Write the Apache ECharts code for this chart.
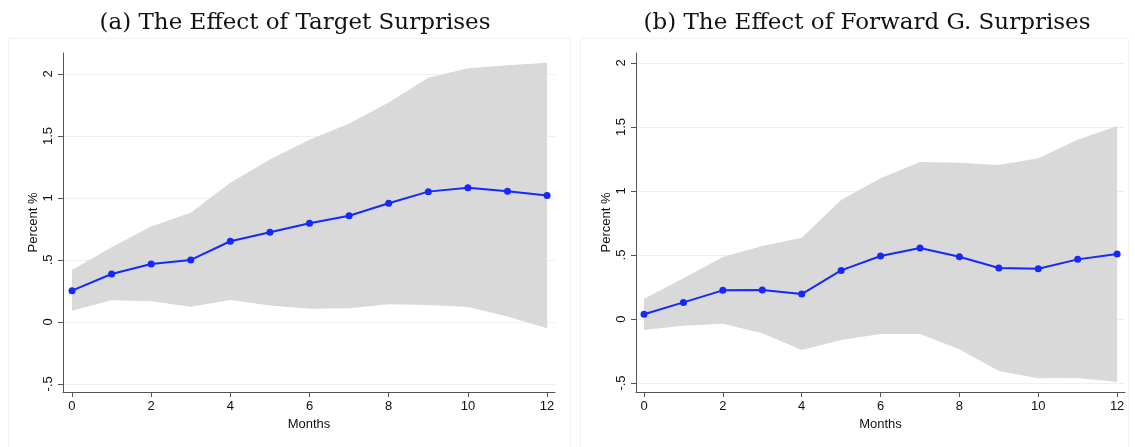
<!DOCTYPE html>
<html>
<head>
<meta charset="utf-8">
<script src="https://cdn.jsdelivr.net/npm/echarts@6/dist/echarts.min.js"></script>
<style>
  html, body { margin: 0; padding: 0; background: #fff; }
  #chart { width: 1135px; height: 447px; }
</style>
</head>
<body>
<div id="chart"></div>
<script>
// months after the shock
var months = [0, 1, 2, 3, 4, 5, 6, 7, 8, 9, 10, 11, 12];

// (a) target surprises
var targetIrf   = [0.252, 0.387, 0.468, 0.500, 0.651, 0.723, 0.796, 0.857, 0.957, 1.051, 1.083, 1.054, 1.019];
var targetLower = [0.091, 0.175, 0.167, 0.123, 0.177, 0.132, 0.107, 0.110, 0.143, 0.137, 0.121, 0.043, -0.051];
var targetUpper = [0.419, 0.602, 0.769, 0.881, 1.123, 1.310, 1.470, 1.600, 1.770, 1.970, 2.046, 2.070, 2.090];

// (b) forward guidance surprises
var fgIrf   = [0.037, 0.130, 0.224, 0.227, 0.195, 0.380, 0.492, 0.555, 0.487, 0.398, 0.393, 0.466, 0.508];
var fgLower = [-0.086, -0.052, -0.037, -0.112, -0.242, -0.164, -0.117, -0.117, -0.237, -0.406, -0.463, -0.461, -0.492];
var fgUpper = [0.159, 0.318, 0.484, 0.570, 0.635, 0.930, 1.100, 1.227, 1.220, 1.203, 1.255, 1.400, 1.508];

var xTicks = [0, 2, 4, 6, 8, 10, 12];
var yTicks = [-0.5, 0, 0.5, 1, 1.5, 2];

var titles = ['(a) The Effect of Target Surprises', '(b) The Effect of Forward G. Surprises'];

function stataNum(v) {
    if (v === 0) return '0';
    var s = String(v);
    return s.replace(/^(-?)0\./, '$1.');
}

function pairs(ys) {
    var out = [];
    for (var i = 0; i < months.length; i++) out.push([months[i], ys[i]]);
    return out;
}

function bandSeries(idx, lower, upper) {
    return {
        type: 'custom',
        xAxisIndex: idx,
        yAxisIndex: idx,
        silent: true,
        z: 1,
        data: months,
        renderItem: function(params, api) {
            if (params.dataIndex !== 0) return null;
            var pts = [];
            for (var i = 0; i < months.length; i++) pts.push(api.coord([months[i], upper[i]]));
            for (var j = months.length - 1; j >= 0; j--) pts.push(api.coord([months[j], lower[j]]));
            return {
                type: 'polygon',
                shape: { points: pts },
                style: { fill: '#d9d9d9', stroke: null }
            };
        }
    };
}

function lineSeries(idx, ys) {
    return {
        type: 'line',
        xAxisIndex: idx,
        yAxisIndex: idx,
        data: pairs(ys),
        z: 3,
        symbol: 'circle',
        symbolSize: 7,
        lineStyle: { color: '#1428ff', width: 2 },
        itemStyle: { color: '#1428ff' },
        animation: false
    };
}

function xAxisOpt(idx, min) {
    return {
        type: 'value',
        gridIndex: idx,
        min: min,
        max: 12.2,
        name: 'Months',
        nameLocation: 'middle',
        nameGap: 26,
        nameMoveOverlap: false,
        nameTextStyle: { fontFamily: 'Liberation Sans', fontSize: 13, color: '#111' },
        axisLine: { onZero: false, lineStyle: { color: '#555', width: 1 } },
        axisTick: { show: true, length: 5, customValues: xTicks, lineStyle: { color: '#555' } },
        axisLabel: { customValues: xTicks, margin: 8, fontFamily: 'Liberation Sans', fontSize: 13, color: '#111' },
        splitLine: { show: false }
    };
}

function yAxisOpt(idx, min, max) {
    return {
        type: 'value',
        gridIndex: idx,
        min: min,
        max: max,
        name: 'Percent %',
        nameLocation: 'middle',
        nameGap: 23,
        nameMoveOverlap: false,
        nameTextStyle: { fontFamily: 'Liberation Sans', fontSize: 13, color: '#111' },
        axisLine: { show: true, onZero: false, lineStyle: { color: '#555', width: 1 } },
        axisTick: { show: true, length: 5, customValues: yTicks, lineStyle: { color: '#555' } },
        axisLabel: {
            customValues: yTicks, rotate: 90, margin: 8,
            fontFamily: 'Liberation Sans', fontSize: 13, color: '#111',
            formatter: function(v) { return stataNum(v); }
        },
        splitLine: { show: true, lineStyle: { color: '#eaf1f1', width: 1 } }
    };
}

var chart = echarts.init(document.getElementById('chart'));

var option = {
    animation: false,
    backgroundColor: '#fff',
    graphic: [
        { type: 'rect', shape: { x: 8.5, y: 38.5, width: 562, height: 420 }, style: { fill: null, stroke: '#f2f2f2', lineWidth: 1 }, silent: true, z: -10 },
        { type: 'rect', shape: { x: 580.5, y: 38.5, width: 548, height: 420 }, style: { fill: null, stroke: '#f2f2f2', lineWidth: 1 }, silent: true, z: -10 }
    ],
    title: [
        { text: titles[0], left: 290, top: 7, textAlign: 'center',
          textStyle: { fontFamily: 'DejaVu Serif', fontSize: 23, fontWeight: 'normal', color: '#111' } },
        { text: titles[1], left: 862, top: 7, textAlign: 'center',
          textStyle: { fontFamily: 'DejaVu Serif', fontSize: 23, fontWeight: 'normal', color: '#111' } }
    ],
    grid: [
        { left: 63, top: 53, width: 492, height: 339 },
        { left: 636, top: 53, width: 489, height: 339 }
    ],
    xAxis: [xAxisOpt(0, -0.227), xAxisOpt(1, -0.203)],
    yAxis: [yAxisOpt(0, -0.565, 2.169), yAxisOpt(1, -0.570, 2.078)],
    series: [
        bandSeries(0, targetLower, targetUpper),
        lineSeries(0, targetIrf),
        bandSeries(1, fgLower, fgUpper),
        lineSeries(1, fgIrf)
    ]
};

chart.setOption(option);
</script>
</body>
</html>
